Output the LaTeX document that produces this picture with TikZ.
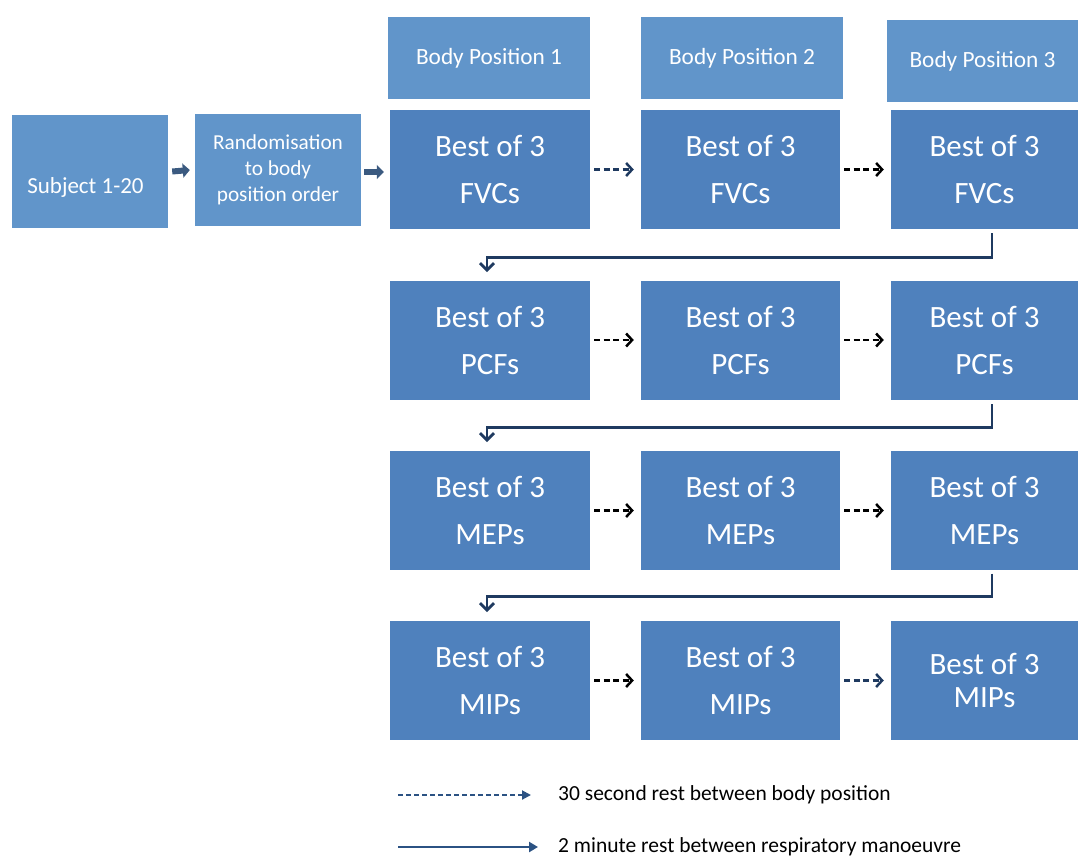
\documentclass[tikz,border=0pt]{standalone}
\usepackage{fontspec}
\setmainfont{Carlito}
\usetikzlibrary{arrows.meta}
\definecolor{boxmain}{HTML}{4F81BD}
\definecolor{boxlight}{HTML}{6195CA}
\definecolor{navy}{HTML}{1F3A60}
\definecolor{slate}{HTML}{3B5A80}
\definecolor{legblue}{HTML}{2B5283}
\tikzset{
  best/.style={fill=boxmain, text=white, inner sep=0pt, minimum width=200pt, minimum height=119pt, align=center, font=\fontsize{31}{47}\selectfont},
  lightbox/.style={fill=boxlight, text=white, inner sep=0pt, align=center},
  dasharrow/.style={line width=2.5pt, dash pattern=on 6pt off 3.5pt, -{Straight Barb[length=6pt,width=13pt,line width=2.5pt]}, shorten >=1pt},
  elbow/.style={navy, line width=2.8pt, -{Straight Barb[length=7pt,width=14pt,line width=2.8pt]}},
  blockarrow/.style={slate, line width=6pt, -{Triangle[length=7pt,width=14pt]}},
  legtext/.style={anchor=west, inner sep=0pt, font=\fontsize{21.5}{24}\selectfont, text=black}
}
\begin{document}
\begin{tikzpicture}[x=1pt,y=-1pt]
\useasboundingbox (0,0) rectangle (1078,855);
% left boxes
\node[lightbox, minimum width=156pt, minimum height=113pt] (subj) at (90,171.5) {};
\node[text=white, inner sep=0pt, font=\fontsize{23}{26}\selectfont] (subjtxt) at (85.5,187) {Subject 1-20};
\node[lightbox, minimum width=166pt, minimum height=112pt, font=\fontsize{21.3}{26}\selectfont] (rand) at (278,170) {Randomisation\\to body\\position order};
% body position headers
\node[lightbox, minimum width=202pt, minimum height=82pt, font=\fontsize{23.3}{26}\selectfont] (bp1) at (489,58) {Body Position 1};
\node[lightbox, minimum width=202pt, minimum height=82pt, font=\fontsize{23.3}{26}\selectfont] (bp2) at (742,58) {Body Position 2};
\node[lightbox, minimum width=191pt, minimum height=82pt, font=\fontsize{23.3}{26}\selectfont] (bp3) at (982.5,61) {Body Position 3};
% grid
\node[best] (a1) at (490,169.5) {Best of 3\\FVCs};
\node[best, minimum width=199pt] (a2) at (740.5,169.5) {Best of 3\\FVCs};
\node[best, minimum width=187pt] (a3) at (984.5,169.5) {Best of 3\\FVCs};
\node[best] (b1) at (490,340) {Best of 3\\PCFs};
\node[best, minimum width=199pt] (b2) at (740.5,340) {Best of 3\\PCFs};
\node[best, minimum width=187pt] (b3) at (984.5,340) {Best of 3\\PCFs};
\node[best] (c1) at (490,510.5) {Best of 3\\MEPs};
\node[best, minimum width=199pt] (c2) at (740.5,510.5) {Best of 3\\MEPs};
\node[best, minimum width=187pt] (c3) at (984.5,510.5) {Best of 3\\MEPs};
\node[best] (d1) at (490,680.5) {Best of 3\\MIPs};
\node[best, minimum width=199pt] (d2) at (740.5,680.5) {Best of 3\\MIPs};
\node[best, minimum width=187pt, font=\fontsize{31}{33}\selectfont] (d3) at (984.5,680.5) {Best of 3\\MIPs};
% block arrows
\draw[blockarrow] ([xshift=4pt]subj.east) -- ([xshift=-5pt]rand.west);
\draw[blockarrow] ([xshift=3pt,yshift=-2pt]rand.east) -- ([xshift=-6pt,yshift=-2.5pt]a1.west);
% dashed arrows
\draw[dasharrow, navy] ([xshift=4pt]a1.east) -- ([xshift=-6pt]a2.west);
\draw[dasharrow, black] ([xshift=4pt]a2.east) -- ([xshift=-6pt]a3.west);
\draw[dasharrow, black] ([xshift=4pt]b1.east) -- ([xshift=-6pt]b2.west);
\draw[dasharrow, black] ([xshift=4pt]b2.east) -- ([xshift=-6pt]b3.west);
\draw[dasharrow, black] ([xshift=4pt]c1.east) -- ([xshift=-6pt]c2.west);
\draw[dasharrow, black] ([xshift=4pt]c2.east) -- ([xshift=-6pt]c3.west);
\draw[dasharrow, black] ([xshift=4pt]d1.east) -- ([xshift=-6pt]d2.west);
\draw[dasharrow, navy] ([xshift=4pt]d2.east) -- ([xshift=-6pt]d3.west);
% elbow connectors
\coordinate (e1) at (487,272);
\coordinate (e2) at (487,442);
\coordinate (e3) at (487,612);
\draw[elbow] ([xshift=7.5pt,yshift=-4pt]a3.south) -- ++(0,24) -| (e1);
\draw[elbow] ([xshift=7.5pt,yshift=-4.5pt]b3.south) -- ++(0,23) -| (e2);
\draw[elbow] ([xshift=7.5pt,yshift=-3.5pt]c3.south) -- ++(0,23) -| (e3);
% legend
\coordinate (l1a) at (398,795);
\coordinate (l1b) at (531,795);
\coordinate (l2a) at (398,847);
\coordinate (l2b) at (538,847);
\draw[legblue, line width=2pt, dash pattern=on 5pt off 3pt, -{Triangle[length=9pt,width=9pt]}] (l1a) -- (l1b);
\draw[legblue, line width=2.8pt, -{Triangle[length=9pt,width=10pt]}] (l2a) -- (l2b);
\node[legtext] (lt1) at (558,795) {30 second rest between body position};
\node[legtext] (lt2) at (558,847) {2 minute rest between respiratory manoeuvre};
\end{tikzpicture}
\end{document}
